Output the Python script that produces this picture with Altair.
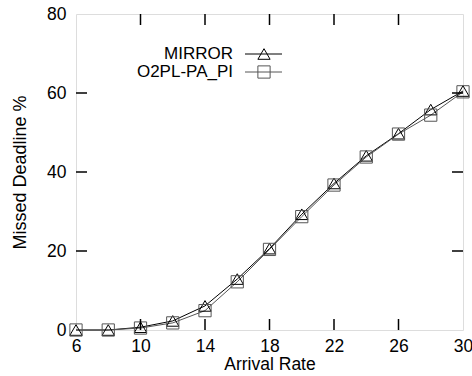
import altair as alt
import pandas as pd

rates = [6, 8, 10, 12, 14, 16, 18, 20, 22, 24, 26, 28, 30]
mirror = [0.0, 0.0, 0.7, 2.3, 6.1, 12.9, 20.6, 29.3, 37.1, 44.1, 49.7, 55.8, 60.5]
o2pl = [0.0, 0.0, 0.5, 1.8, 4.9, 12.2, 20.4, 28.7, 36.7, 43.8, 49.6, 54.4, 60.3]
series_names = ["MIRROR", "O2PL-PA_PI"]
x_ticks = [6, 10, 14, 18, 22, 26, 30]
y_ticks = [0, 20, 40, 60, 80]
x_inner_ticks = [10, 14, 18, 22, 26]
y_inner_ticks = [20, 40, 60]

W, H = 387, 316
FONT = "Liberation Sans"
colors = ["#000000", "#555555"]
shapes = ["triangle-up", "square"]

df = pd.DataFrame({
    "rate": rates * 2,
    "value": mirror + o2pl,
    "series": [series_names[0]] * len(rates) + [series_names[1]] * len(rates),
})

xscale = alt.Scale(domain=[6, 30], nice=False, zero=False)
yscale = alt.Scale(domain=[0, 80], nice=False)

xaxis = alt.Axis(values=x_ticks, ticks=False, domain=False, grid=False,
                 labelFontSize=17.5, labelPadding=7, labelFlush=False, title="Arrival Rate",
                 titleFontSize=17.5, titleFontWeight="normal", titlePadding=1,
                 labelFont=FONT, titleFont=FONT, labelColor="black", titleColor="black")
yaxis = alt.Axis(values=y_ticks, ticks=False, domain=False, grid=False,
                 labelFontSize=17.5, labelPadding=10, labelFlush=False, title="Missed Deadline %",
                 titleFontSize=18, titleFontWeight="normal", titlePadding=17,
                 labelFont=FONT, titleFont=FONT, labelColor="black", titleColor="black")

base = alt.Chart(df)
color = alt.Color("series:N", scale=alt.Scale(domain=series_names, range=colors), legend=None)
shape = alt.Shape("series:N", scale=alt.Scale(domain=series_names, range=shapes), legend=None)

lines = base.mark_line(strokeWidth=1).encode(
    x=alt.X("rate:Q", scale=xscale, axis=xaxis),
    y=alt.Y("value:Q", scale=yscale, axis=yaxis),
    color=color,
    detail="series:N",
)
points = base.mark_point(filled=False, size=150, strokeWidth=1, opacity=1).encode(
    x=alt.X("rate:Q", scale=xscale),
    y=alt.Y("value:Q", scale=yscale),
    color=color,
    shape=shape,
)

# inward ticks
xt = pd.DataFrame({"t": x_inner_ticks})
yt = pd.DataFrame({"t": y_inner_ticks})
tick_bottom = alt.Chart(xt).mark_rule(color="black", strokeWidth=1.5).encode(
    x=alt.X("t:Q", scale=xscale), y=alt.value(H), y2=alt.value(H - 11))
tick_top = alt.Chart(xt).mark_rule(color="black", strokeWidth=1.5).encode(
    x=alt.X("t:Q", scale=xscale), y=alt.value(0), y2=alt.value(11))
tick_left = alt.Chart(yt).mark_rule(color="black", strokeWidth=1.5).encode(
    y=alt.Y("t:Q", scale=yscale), x=alt.value(0), x2=alt.value(11))
tick_right = alt.Chart(yt).mark_rule(color="black", strokeWidth=1.5).encode(
    y=alt.Y("t:Q", scale=yscale), x=alt.value(W), x2=alt.value(W - 11))

# manual legend
legend_layers = []
for i, name in enumerate(series_names):
    ly = 40 + 18 * i
    ldf = pd.DataFrame({"label": [name]})
    legend_layers.append(alt.Chart(ldf).mark_text(
        align="right", baseline="middle", fontSize=17, font=FONT, color="black"
    ).encode(text="label:N", x=alt.value(157), y=alt.value(ly)))
    legend_layers.append(alt.Chart(ldf).mark_rule(color=colors[i], strokeWidth=1).encode(
        x=alt.value(169), x2=alt.value(206), y=alt.value(ly)))
    legend_layers.append(alt.Chart(ldf).mark_point(
        shape=shapes[i], filled=False, size=150, strokeWidth=1, color=colors[i], opacity=1
    ).encode(x=alt.value(188), y=alt.value(ly)))

chart = alt.layer(
    lines, points, tick_bottom, tick_top, tick_left, tick_right, *legend_layers
).properties(
    width=W, height=H,
    autosize=alt.AutoSizeParams(type="none"),
    padding={"left": 76, "top": 14, "right": 9, "bottom": 46},
).configure_view(
    stroke="black", strokeWidth=2
).configure(background="white")

chart.save("out.html", embed_options={"renderer": "svg", "actions": False})
